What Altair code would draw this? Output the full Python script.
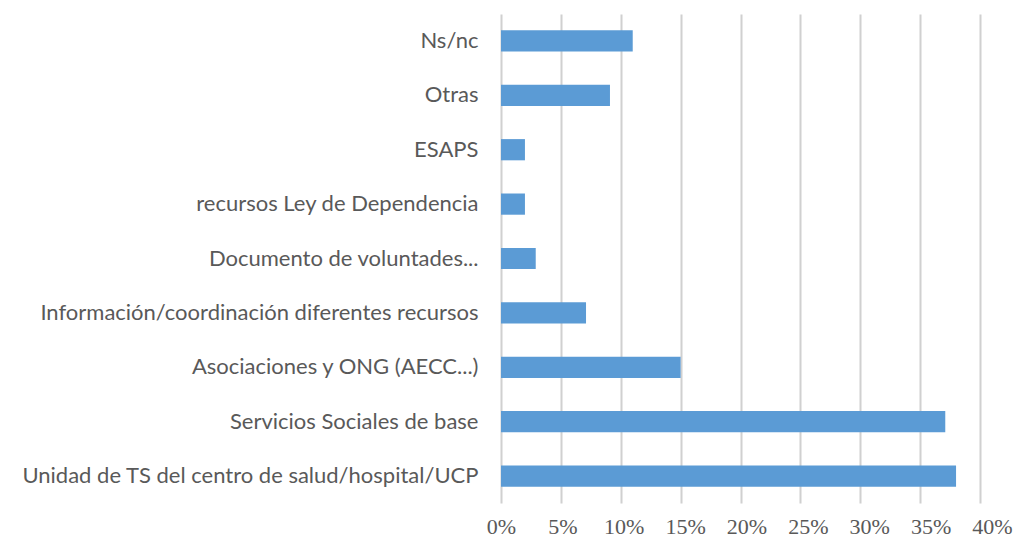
import altair as alt
import pandas as pd

categories = [
    "Ns/nc",
    "Otras",
    "ESAPS",
    "recursos Ley de Dependencia",
    "Documento de voluntades...",
    "Información/coordinación diferentes recursos",
    "Asociaciones y ONG (AECC...)",
    "Servicios Sociales de base",
    "Unidad de TS del centro de salud/hospital/UCP",
]
values = [0.11, 0.091, 0.02, 0.02, 0.029, 0.071, 0.15, 0.371, 0.38]
x_ticks = [0, 0.05, 0.10, 0.15, 0.20, 0.25, 0.30, 0.35, 0.40]

df = pd.DataFrame({"cat": categories, "val": values})

chart = (
    alt.Chart(df)
    .mark_bar(color="#5B9BD5")
    .encode(
        y=alt.Y(
            "cat:N",
            sort=categories,
            title=None,
            scale=alt.Scale(paddingInner=0.61, paddingOuter=0.3),
            axis=alt.Axis(
                domain=False,
                ticks=False,
                grid=False,
                labelFont="Lato",
                labelFontSize=22,
                labelColor="#595959",
                labelPadding=23,
                labelLimit=600,
            ),
        ),
        x=alt.X(
            "val:Q",
            title=None,
            scale=alt.Scale(domain=[0, 0.4], nice=False),
            axis=alt.Axis(
                values=x_ticks,
                format=".0%",
                domain=False,
                ticks=False,
                grid=True,
                gridColor="#D0D0D0",
                gridWidth=2,
                labelFont="Liberation Serif",
                labelFontSize=22,
                labelColor="#595959",
                labelPadding=13,
                labelFlush=False,
                labelOverlap=False,
                labelOffset=alt.ExprRef("datum.value * 30"),
            ),
        ),
    )
    .properties(
        width=479,
        height=489,
        autosize=alt.AutoSizeParams(type="none"),
        padding={"left": 493, "top": 6, "right": 34, "bottom": 34},
    )
    .configure_view(stroke=None)
)

chart.save("out.html", embed_options={"renderer": "svg", "actions": False})
